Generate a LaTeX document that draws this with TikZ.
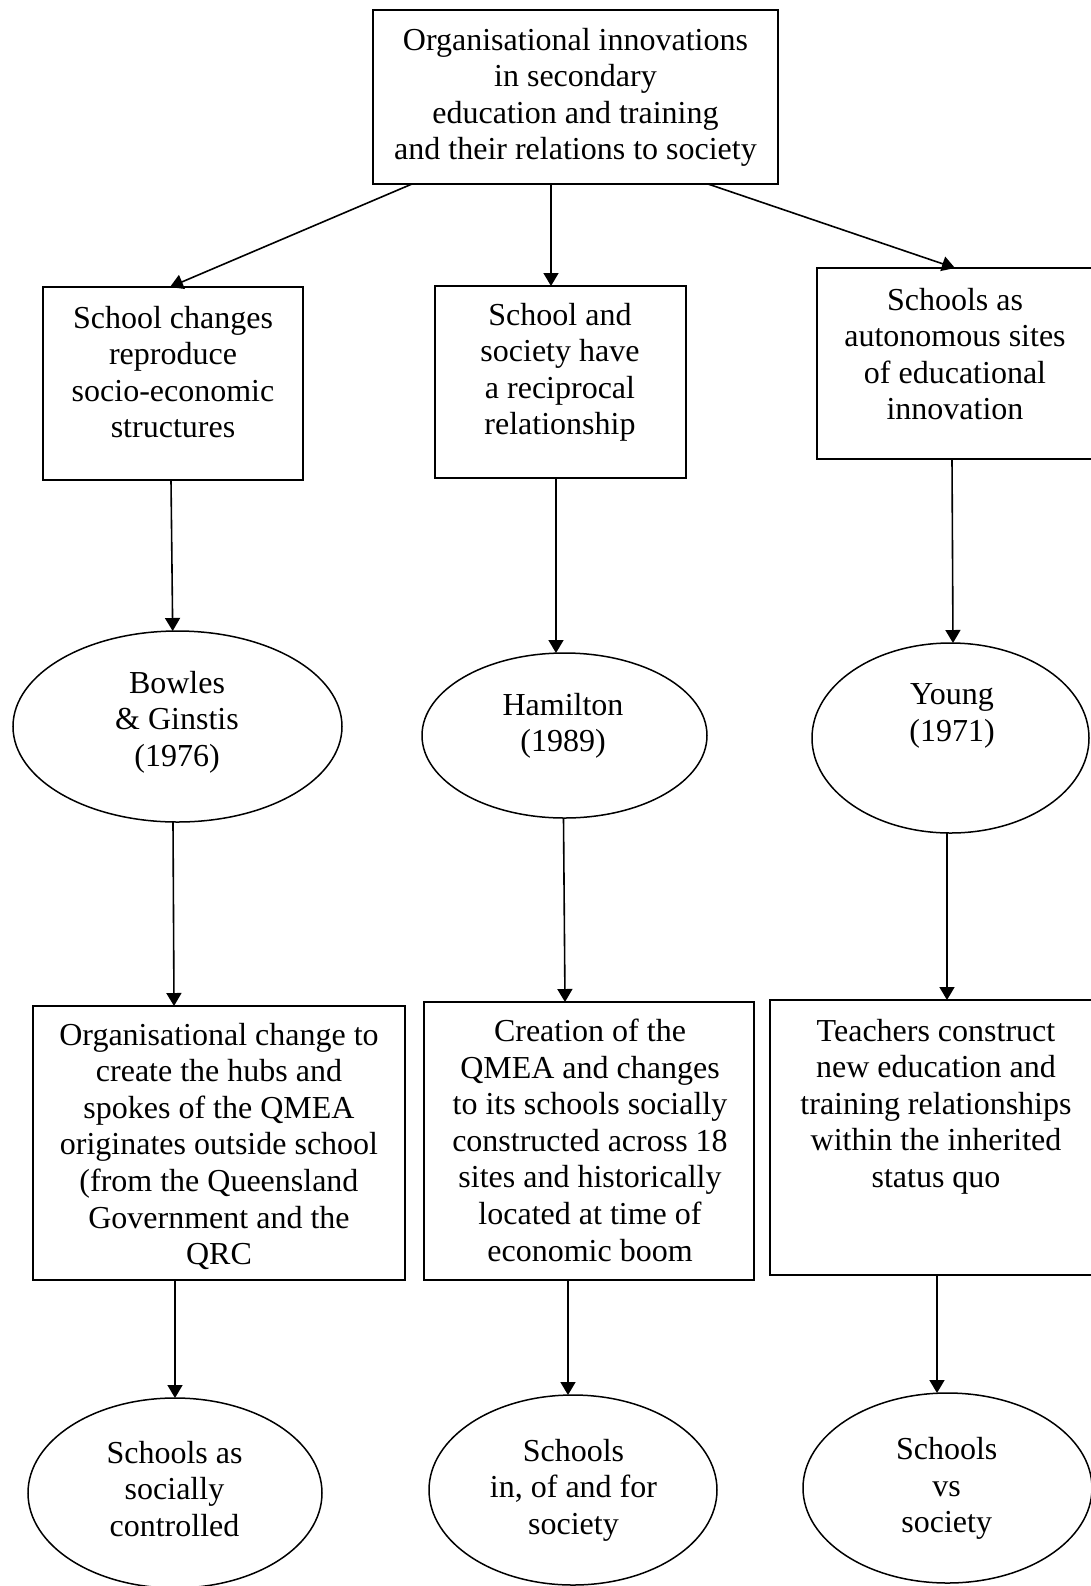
\documentclass[tikz,border=0pt]{standalone}
\usepackage{fontspec}
\setmainfont{Liberation Serif}
\usetikzlibrary{shapes.geometric,arrows.meta,calc}
\begin{document}
\begin{tikzpicture}[x=0.5pt,y=-0.5pt,
  boxnode/.style={draw,line width=1pt,rectangle,inner sep=0pt,outer sep=0pt},
  ellnode/.style={draw,line width=0.75pt,ellipse,inner sep=0pt,outer sep=0pt},
  txt/.style={anchor=north,align=center,inner sep=0pt,font=\fontsize{16}{18.3}\selectfont},
  arr/.style={line width=0.8pt,-{Triangle[length=6.5pt,width=7.5pt]}}]
\useasboundingbox (0,0) rectangle (1091,1586);
\clip (0,0) rectangle (1091,1586);
% boxes
\node[boxnode,minimum width=202.5pt,minimum height=87pt] (T) at (575.5,97) {};
\node[boxnode,minimum width=130.15pt,minimum height=96.5pt] (B1) at (172.85,383.5) {};
\node[boxnode,minimum width=125.5pt,minimum height=96pt] (B2) at (560.5,382) {};
\node[boxnode,minimum width=141.5pt,minimum height=95.5pt] (B3) at (958.5,363.5) {};
\node[ellnode,minimum width=164.5pt,minimum height=95.5pt] (E1) at (177.5,726.5) {};
\node[ellnode,minimum width=142.5pt,minimum height=82.5pt] (E2) at (564.5,735.5) {};
\node[ellnode,minimum width=138.5pt,minimum height=95pt] (E3) at (950.5,738) {};
\node[boxnode,minimum width=186.25pt,minimum height=137pt] (B4) at (218.75,1143) {};
\node[boxnode,minimum width=165pt,minimum height=139pt] (B5) at (589,1141) {};
\node[boxnode,minimum width=165pt,minimum height=137.5pt] (B6) at (935,1137.5) {};
\node[ellnode,minimum width=147pt,minimum height=95pt] (F1) at (175,1493) {};
\node[ellnode,minimum width=144pt,minimum height=95pt] (F2) at (573,1490) {};
\node[ellnode,minimum width=144.5pt,minimum height=95pt] (F3) at (947.5,1488) {};
% texts
\node[txt] (Tt) at (575.5,27.5) {Organisational innovations\\in secondary\\education and training\\and their relations to society};
\node[txt] (B1t) at (173,305.5) {School changes\\reproduce\\socio-economic\\structures};
\node[txt] (B2t) at (560,302.5) {School and\\society have\\a reciprocal\\relationship};
\node[txt] (B3t) at (955,287.5) {Schools as\\autonomous sites\\of educational\\innovation};
\node[txt] (E1t) at (177,670.5) {Bowles\\\& Ginstis\\(1976)};
\node[txt] (E2t) at (563,692.5) {Hamilton\\(1989)};
\node[txt] (E3t) at (952,683.5) {Young\\(1971)};
\node[txt] (B4t) at (219,1022.5) {Organisational change to\\create the hubs and\\spokes of the QMEA\\originates outside school\\(from the Queensland\\Government and the\\QRC};
\node[txt] (B5t) at (590,1018.5) {Creation of the\\QMEA and changes\\to its schools socially\\constructed across 18\\sites and historically\\located at time of\\economic boom};
\node[txt] (B6t) at (936,1018.5) {Teachers construct\\new education and\\training relationships\\within the inherited\\status quo};
\node[txt] (F1t) at (174.5,1440.5) {Schools as\\socially\\controlled};
\node[txt] (F2t) at (573.5,1438.5) {Schools\\in, of and for\\society};
\node[txt] (F3t) at (946.7,1437) {Schools\\vs\\society};
% arrows
\draw[arr] ($(T.south)+(-163.5,0)$) -- ($(B1.north)+(-2.85,0)$);
\draw[arr] ($(T.south)+(-24.5,0)$) -- ($(B2.north)+(-9.5,0)$);
\draw[arr] ($(T.south)+(132.5,0)$) -- ($(B3.north)+(-3.5,0)$);
\draw[arr] ($(B1.south)+(-1.85,0)$) -- ($(E1.north)+(-4.8,0)$);
\draw[arr] ($(B2.south)+(-4.5,0)$) -- ($(E2.north)+(-8.5,0)$);
\draw[arr] ($(B3.south)+(-6.5,0)$) -- ($(E3.north)+(2.5,0)$);
\draw[arr] ($(E1.south)+(-4.5,0)$) -- ($(B4.north)+(-44.75,0)$);
\draw[arr] ($(E2.south)+(-1,0)$) -- ($(B5.north)+(-24,0)$);
\draw[arr] ($(E3.south)+(-3.5,0)$) -- ($(B6.north)+(12,0)$);
\draw[arr] ($(B4.south)+(-43.75,0)$) -- (F1.north);
\draw[arr] ($(B5.south)+(-21,0)$) -- ($(F2.north)+(-5,0)$);
\draw[arr] ($(B6.south)+(2,0)$) -- ($(F3.north)+(-10.5,0)$);
\end{tikzpicture}
\end{document}
